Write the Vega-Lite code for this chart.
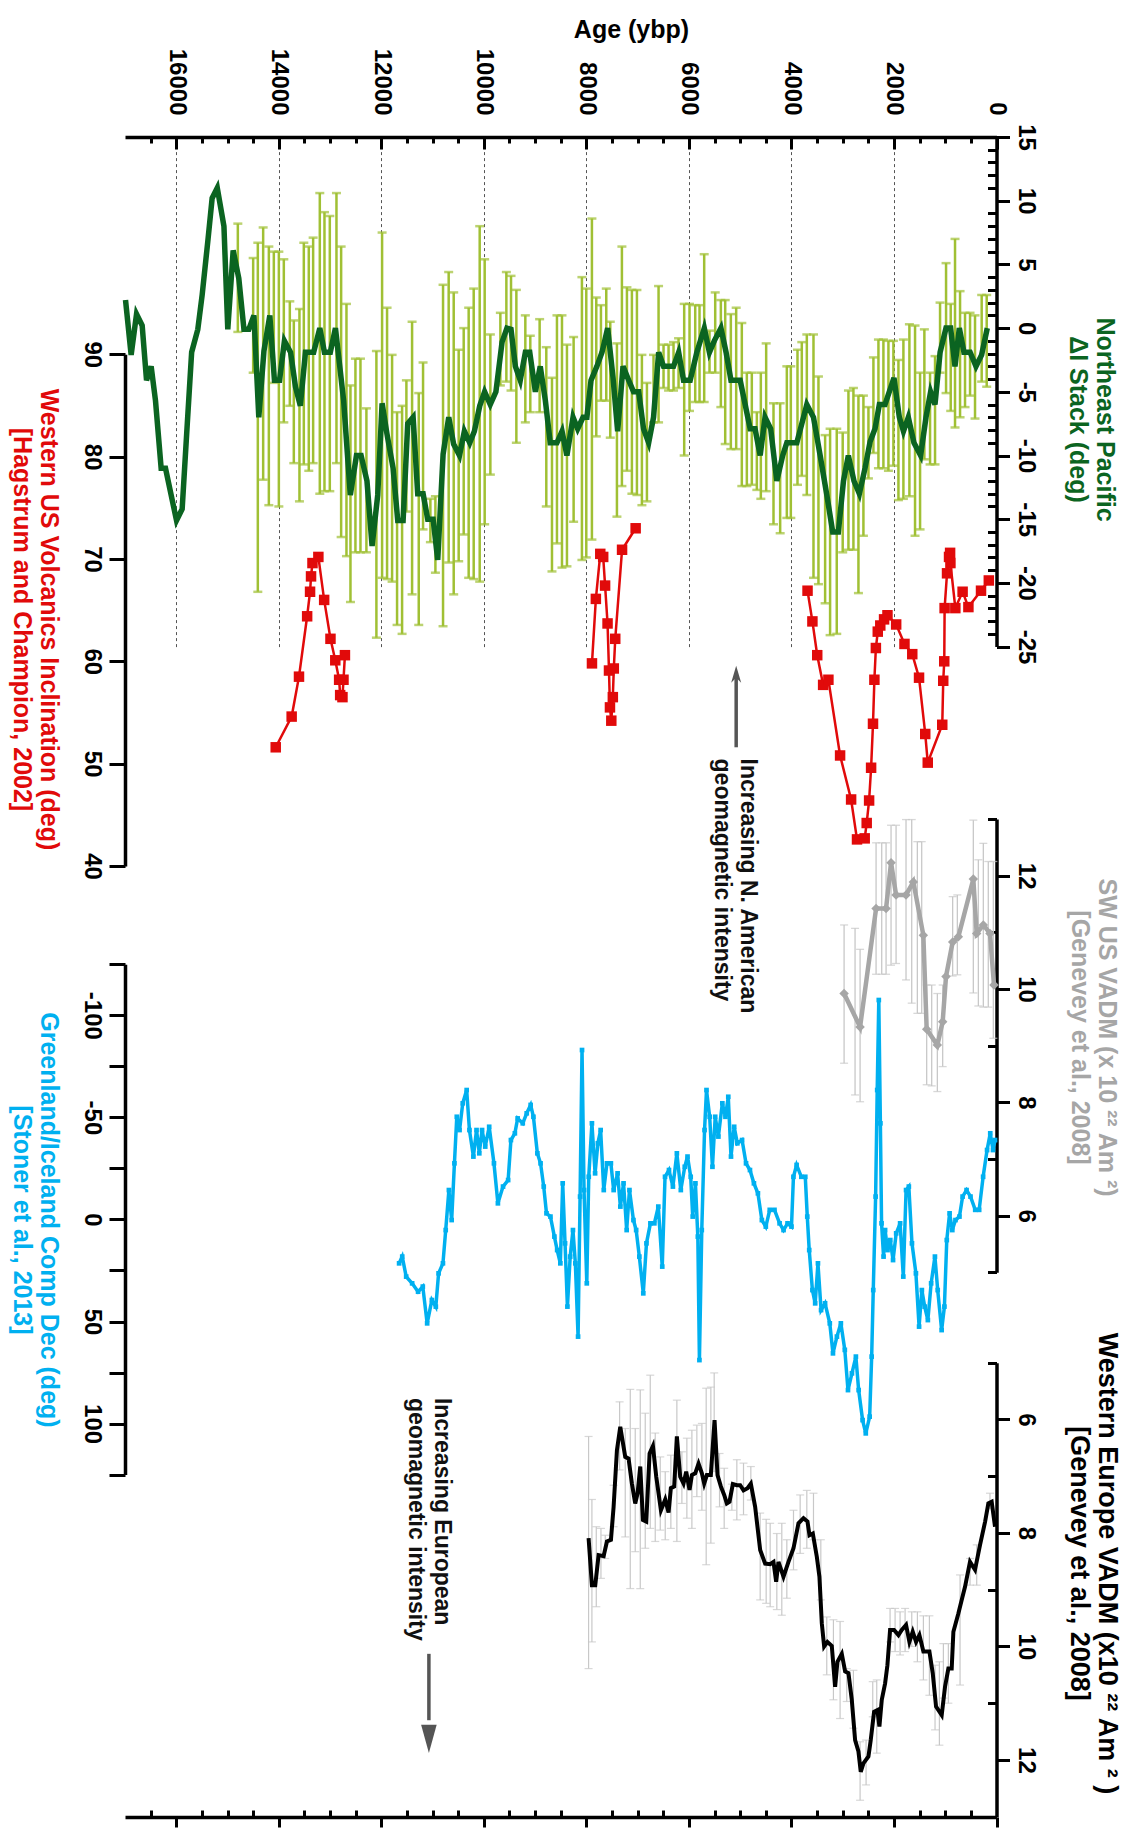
{
"$schema":"https://vega.github.io/schema/vega-lite/v6.json",
"width":871.5,"height":1680,
"autosize":{"type":"none"},
"padding":{"left":125,"top":137,"right":139.5,"bottom":15},
"background":"white",
"config":{"view":{"stroke":null},
 "axis":{"labelFont":"Liberation Sans","labelFontWeight":"bold","labelFontSize":24,"labelColor":"#000","titleFont":"Liberation Sans","titleFontWeight":"bold","titleFontSize":25,"domainColor":"#000","domainWidth":3.5,"tickColor":"#000","tickWidth":3,"grid":false,"labelFlush":false,"labelOverlap":false}},
"datasets":{
"nep":[{"age":16990,"v":2.2},{"age":16880,"v":-2.1},{"age":16775,"v":1.1},{"age":16665,"v":0.2},{"age":16580,"v":-4.1},{"age":16490,"v":-3.0},{"age":16405,"v":-5.7},{"age":16295,"v":-11.0},{"age":16210,"v":-11.0},{"age":15995,"v":-15.1},{"age":15885,"v":-14.2},{"age":15785,"v":-7.5},{"age":15700,"v":-1.9},{"age":15580,"v":-0.1},{"age":15495,"v":2.6},{"age":15385,"v":6.8},{"age":15300,"v":10.2},{"age":15200,"v":11.0},{"age":15070,"v":8.0},{"age":14995,"v":-0.1},{"age":14890,"v":6.1},{"age":14780,"v":3.9},{"age":14680,"v":-0.1},{"age":14585,"v":-0.1},{"age":14485,"v":1.0},{"age":14390,"v":-7.0},{"age":14290,"v":-1.8},{"age":14175,"v":1.0},{"age":14085,"v":-4.1},{"age":13985,"v":-4.1},{"age":13890,"v":-1.0},{"age":13770,"v":-1.9},{"age":13675,"v":-4.6},{"age":13580,"v":-6.1},{"age":13480,"v":-1.9},{"age":13320,"v":-1.9},{"age":13200,"v":0.0},{"age":13110,"v":-1.9},{"age":12995,"v":-1.9},{"age":12895,"v":0.0},{"age":12735,"v":-5.7},{"age":12605,"v":-13.1},{"age":12485,"v":-10.0},{"age":12395,"v":-10.0},{"age":12280,"v":-12.0},{"age":12180,"v":-17.1},{"age":12070,"v":-13.1},{"age":11985,"v":-5.9},{"age":11890,"v":-8.3},{"age":11770,"v":-11.0},{"age":11680,"v":-15.1},{"age":11575,"v":-15.1},{"age":11485,"v":-7.5},{"age":11380,"v":-7.0},{"age":11290,"v":-13.0},{"age":11185,"v":-13.0},{"age":11095,"v":-15.0},{"age":10990,"v":-15.0},{"age":10900,"v":-18.2},{"age":10795,"v":-9.9},{"age":10685,"v":-7.0},{"age":10590,"v":-9.1},{"age":10475,"v":-10.0},{"age":10380,"v":-8.1},{"age":10275,"v":-9.0},{"age":10185,"v":-8.1},{"age":10080,"v":-6.1},{"age":9985,"v":-5.0},{"age":9875,"v":-6.0},{"age":9765,"v":-5.0},{"age":9645,"v":-1.1},{"age":9550,"v":0.0},{"age":9470,"v":-0.1},{"age":9385,"v":-3.0},{"age":9290,"v":-4.1},{"age":9190,"v":-1.9},{"age":9105,"v":-1.9},{"age":8995,"v":-5.0},{"age":8900,"v":-3.0},{"age":8800,"v":-5.7},{"age":8705,"v":-9.0},{"age":8575,"v":-9.0},{"age":8475,"v":-8.1},{"age":8380,"v":-10.0},{"age":8260,"v":-7.0},{"age":8170,"v":-7.9},{"age":8065,"v":-7.0},{"age":7990,"v":-7.0},{"age":7910,"v":-4.1},{"age":7795,"v":-3.0},{"age":7695,"v":-1.9},{"age":7585,"v":0.0},{"age":7480,"v":-3.9},{"age":7390,"v":-8.1},{"age":7285,"v":-3.0},{"age":7175,"v":-4.1},{"age":7080,"v":-5.0},{"age":6980,"v":-5.0},{"age":6885,"v":-7.9},{"age":6785,"v":-9.0},{"age":6690,"v":-7.0},{"age":6590,"v":-1.9},{"age":6495,"v":-3.0},{"age":6395,"v":-3.0},{"age":6300,"v":-3.0},{"age":6200,"v":-1.9},{"age":6105,"v":-4.1},{"age":5975,"v":-4.1},{"age":5845,"v":-1.9},{"age":5700,"v":0.0},{"age":5600,"v":-1.9},{"age":5505,"v":-1.0},{"age":5375,"v":0.0},{"age":5275,"v":-1.9},{"age":5180,"v":-4.1},{"age":5000,"v":-4.1},{"age":4805,"v":-7.9},{"age":4710,"v":-7.9},{"age":4610,"v":-10.0},{"age":4515,"v":-7.0},{"age":4405,"v":-7.9},{"age":4285,"v":-12.0},{"age":4170,"v":-10.0},{"age":4090,"v":-9.0},{"age":3895,"v":-9.0},{"age":3700,"v":-6.0},{"age":3570,"v":-7.0},{"age":3440,"v":-10.0},{"age":3310,"v":-13.1},{"age":3195,"v":-16.0},{"age":3085,"v":-16.0},{"age":2985,"v":-12.0},{"age":2890,"v":-10.0},{"age":2780,"v":-12.0},{"age":2675,"v":-13.0},{"age":2565,"v":-11.0},{"age":2465,"v":-8.9},{"age":2370,"v":-7.9},{"age":2285,"v":-6.0},{"age":2175,"v":-6.0},{"age":2000,"v":-3.9},{"age":1895,"v":-7.0},{"age":1815,"v":-8.1},{"age":1720,"v":-7.0},{"age":1610,"v":-9.0},{"age":1480,"v":-10.0},{"age":1375,"v":-7.0},{"age":1285,"v":-5.0},{"age":1200,"v":-6.0},{"age":1100,"v":-1.9},{"age":985,"v":0.0},{"age":895,"v":0.0},{"age":810,"v":-3.0},{"age":725,"v":0.0},{"age":635,"v":-1.9},{"age":515,"v":-1.9},{"age":400,"v":-3.0},{"age":290,"v":-2.1},{"age":180,"v":0.0}],
"nepErr":[{"age":14799,"hi":8.2,"lo":-0.3},{"age":14500,"hi":5.5,"lo":-3.5},{"age":14409,"hi":6.7,"lo":-20.7},{"age":14305,"hi":7.9,"lo":-11.9},{"age":14194,"hi":6.4,"lo":-13.9},{"age":14097,"hi":6.0,"lo":-4.3},{"age":13999,"hi":6.0,"lo":-14.0},{"age":13902,"hi":5.4,"lo":-7.4},{"age":13785,"hi":2.1,"lo":-6.1},{"age":13707,"hi":0.6,"lo":-10.6},{"age":13597,"hi":1.5,"lo":-13.6},{"age":13512,"hi":6.7,"lo":-10.7},{"age":13415,"hi":6.4,"lo":-11.2},{"age":13330,"hi":7.1,"lo":-10.6},{"age":13200,"hi":10.6,"lo":-13.0},{"age":13109,"hi":9.1,"lo":-12.8},{"age":13005,"hi":8.8,"lo":-12.8},{"age":12875,"hi":10.6,"lo":-10.6},{"age":12784,"hi":6.4,"lo":-16.4},{"age":12680,"hi":1.9,"lo":-17.9},{"age":12602,"hi":-4.5,"lo":-21.5},{"age":12505,"hi":-2.4,"lo":-17.6},{"age":12407,"hi":-2.4,"lo":-17.6},{"age":12291,"hi":-6.3,"lo":-17.6},{"age":12096,"hi":-1.8,"lo":-24.3},{"age":11985,"hi":7.5,"lo":-19.6},{"age":11888,"hi":1.6,"lo":-19.7},{"age":11790,"hi":-2.1,"lo":-19.9},{"age":11693,"hi":-6.6,"lo":-23.3},{"age":11595,"hi":-6.1,"lo":-24.0},{"age":11511,"hi":-4.1,"lo":-14.4},{"age":11400,"hi":0.5,"lo":-20.9},{"age":11270,"hi":-5.1,"lo":-23.3},{"age":11186,"hi":-2.7,"lo":-15.8},{"age":11043,"hi":-13.4,"lo":-16.8},{"age":10945,"hi":-13.2,"lo":-19.2},{"age":10796,"hi":3.4,"lo":-23.4},{"age":10686,"hi":4.4,"lo":-18.4},{"age":10588,"hi":2.8,"lo":-20.9},{"age":10491,"hi":-1.7,"lo":-18.3},{"age":10393,"hi":0.0,"lo":-16.2},{"age":10296,"hi":1.6,"lo":-19.6},{"age":10198,"hi":3.1,"lo":-19.7},{"age":10081,"hi":8.0,"lo":-19.9},{"age":9984,"hi":5.4,"lo":-15.4},{"age":9873,"hi":-0.5,"lo":-11.5},{"age":9678,"hi":1.2,"lo":-4.5},{"age":9561,"hi":4.4,"lo":-4.2},{"age":9470,"hi":4.1,"lo":-4.9},{"age":9366,"hi":3.0,"lo":-9.0},{"age":9191,"hi":1.0,"lo":-7.4},{"age":9094,"hi":-0.6,"lo":-6.6},{"age":8912,"hi":0.7,"lo":-6.6},{"age":8782,"hi":-1.5,"lo":-14.0},{"age":8671,"hi":-3.9,"lo":-19.1},{"age":8574,"hi":1.0,"lo":-16.9},{"age":8476,"hi":1.0,"lo":-18.8},{"age":8379,"hi":-1.3,"lo":-18.7},{"age":8249,"hi":-0.7,"lo":-15.2},{"age":8087,"hi":4.0,"lo":-18.2},{"age":8002,"hi":3.1,"lo":-18.0},{"age":7892,"hi":8.6,"lo":-16.6},{"age":7807,"hi":2.4,"lo":-8.5},{"age":7716,"hi":1.8,"lo":-5.7},{"age":7612,"hi":3.1,"lo":-5.7},{"age":7534,"hi":0.5,"lo":-8.6},{"age":7404,"hi":-1.2,"lo":-14.8},{"age":7307,"hi":6.4,"lo":-12.4},{"age":7209,"hi":3.2,"lo":-11.2},{"age":7112,"hi":3.0,"lo":-13.0},{"age":7014,"hi":3.0,"lo":-13.1},{"age":6917,"hi":-2.1,"lo":-13.9},{"age":6819,"hi":-4.3,"lo":-13.6},{"age":6690,"hi":-2.1,"lo":-7.4},{"age":6592,"hi":3.3,"lo":-7.4},{"age":6495,"hi":-1.3,"lo":-4.7},{"age":6397,"hi":-1.3,"lo":-4.9},{"age":6300,"hi":-1.1,"lo":-4.9},{"age":6202,"hi":-0.8,"lo":-4.7},{"age":6092,"hi":1.9,"lo":-10.0},{"age":5988,"hi":1.9,"lo":-6.5},{"age":5877,"hi":1.8,"lo":-5.8},{"age":5793,"hi":1.8,"lo":-5.8},{"age":5702,"hi":5.8,"lo":-5.8},{"age":5598,"hi":-0.2,"lo":-3.5},{"age":5487,"hi":2.8,"lo":-3.5},{"age":5377,"hi":2.2,"lo":-6.2},{"age":5292,"hi":2.2,"lo":-9.1},{"age":5182,"hi":1.1,"lo":-9.5},{"age":5078,"hi":1.6,"lo":-9.5},{"age":4968,"hi":0.4,"lo":-12.4},{"age":4870,"hi":-3.5,"lo":-12.4},{"age":4773,"hi":-3.5,"lo":-12.3},{"age":4675,"hi":-6.6,"lo":-12.7},{"age":4597,"hi":-3.5,"lo":-13.4},{"age":4493,"hi":-1.2,"lo":-12.8},{"age":4350,"hi":-5.9,"lo":-15.4},{"age":4220,"hi":-5.9,"lo":-16.1},{"age":4090,"hi":-3.0,"lo":-14.9},{"age":4012,"hi":-3.0,"lo":-14.9},{"age":3882,"hi":-1.7,"lo":-12.3},{"age":3798,"hi":-1.1,"lo":-11.6},{"age":3700,"hi":-0.5,"lo":-13.1},{"age":3570,"hi":-0.5,"lo":-19.6},{"age":3473,"hi":-3.8,"lo":-20.1},{"age":3343,"hi":-8.4,"lo":-21.6},{"age":3246,"hi":-7.9,"lo":-24.1},{"age":3116,"hi":-7.9,"lo":-24.0},{"age":3000,"hi":-8.2,"lo":-17.6},{"age":2888,"hi":-4.9,"lo":-17.4},{"age":2791,"hi":-4.7,"lo":-17.4},{"age":2693,"hi":-5.3,"lo":-20.8},{"age":2596,"hi":-5.3,"lo":-16.3},{"age":2498,"hi":-6.2,"lo":-11.8},{"age":2401,"hi":-2.3,"lo":-9.8},{"age":2303,"hi":-0.9,"lo":-11.0},{"age":2206,"hi":-0.9,"lo":-11.0},{"age":2108,"hi":-1.0,"lo":-11.2},{"age":2011,"hi":-1.0,"lo":-10.8},{"age":1913,"hi":-2.5,"lo":-13.5},{"age":1816,"hi":-0.9,"lo":-13.4},{"age":1699,"hi":0.3,"lo":-13.2},{"age":1589,"hi":0.2,"lo":-16.3},{"age":1491,"hi":-3.5,"lo":-15.8},{"age":1407,"hi":-0.1,"lo":-10.3},{"age":1296,"hi":-3.5,"lo":-10.7},{"age":1199,"hi":-2.2,"lo":-10.7},{"age":1101,"hi":2.0,"lo":-3.5},{"age":984,"hi":5.1,"lo":-5.1},{"age":893,"hi":1.9,"lo":-6.5},{"age":809,"hi":7.0,"lo":-7.8},{"age":711,"hi":2.9,"lo":-7.0},{"age":614,"hi":1.2,"lo":-6.2},{"age":516,"hi":1.2,"lo":-5.3},{"age":419,"hi":1.0,"lo":-7.1},{"age":289,"hi":2.6,"lo":-4.2},{"age":191,"hi":2.6,"lo":-4.6}],
"volc":[{"age":14060,"inc":51.6,"seg":"A"},{"age":13749,"inc":54.6,"seg":"A"},{"age":13606,"inc":58.5,"seg":"A"},{"age":13447,"inc":64.4,"seg":"A"},{"age":13390,"inc":66.8,"seg":"A"},{"age":13371,"inc":68.3,"seg":"A"},{"age":13343,"inc":69.6,"seg":"A"},{"age":13228,"inc":70.2,"seg":"A"},{"age":13115,"inc":66.0,"seg":"A"},{"age":12992,"inc":62.2,"seg":"A"},{"age":12898,"inc":60.1,"seg":"A"},{"age":12823,"inc":58.2,"seg":"A"},{"age":12803,"inc":56.7,"seg":"A"},{"age":12758,"inc":56.5,"seg":"A"},{"age":12738,"inc":58.2,"seg":"A"},{"age":12710,"inc":60.6,"seg":"A"},
{"age":7891,"inc":59.8,"seg":"B"},{"age":7815,"inc":66.1,"seg":"B"},{"age":7729,"inc":70.5,"seg":"B"},{"age":7672,"inc":70.2,"seg":"B"},{"age":7635,"inc":67.4,"seg":"B"},{"age":7587,"inc":63.7,"seg":"B"},{"age":7559,"inc":59.1,"seg":"B"},{"age":7540,"inc":55.5,"seg":"B"},{"age":7514,"inc":54.2,"seg":"B"},{"age":7484,"inc":56.5,"seg":"B"},{"age":7465,"inc":59.3,"seg":"B"},{"age":7437,"inc":62.2,"seg":"B"},{"age":7304,"inc":70.9,"seg":"B"},{"age":7039,"inc":73.0,"seg":"B"},
{"age":3686,"inc":66.9,"seg":"C"},{"age":3591,"inc":63.9,"seg":"C"},{"age":3497,"inc":60.6,"seg":"C"},{"age":3382,"inc":57.7,"seg":"C"},{"age":3279,"inc":58.2,"seg":"C"},{"age":3051,"inc":50.8,"seg":"C"},{"age":2836,"inc":46.5,"seg":"C"},{"age":2721,"inc":42.6,"seg":"C"},{"age":2571,"inc":42.7,"seg":"C"},{"age":2532,"inc":44.2,"seg":"C"},{"age":2485,"inc":46.4,"seg":"C"},{"age":2446,"inc":49.6,"seg":"C"},{"age":2409,"inc":53.9,"seg":"C"},{"age":2382,"inc":58.2,"seg":"C"},{"age":2353,"inc":61.3,"seg":"C"},{"age":2316,"inc":62.9,"seg":"C"},{"age":2267,"inc":63.5,"seg":"C"},{"age":2193,"inc":64.1,"seg":"C"},{"age":2127,"inc":64.5,"seg":"C"},{"age":1957,"inc":63.6,"seg":"C"},{"age":1795,"inc":61.7,"seg":"C"},{"age":1643,"inc":60.7,"seg":"C"},{"age":1511,"inc":58.4,"seg":"C"},{"age":1390,"inc":52.9,"seg":"C"},{"age":1341,"inc":50.1,"seg":"C"},{"age":1058,"inc":53.8,"seg":"C"},{"age":1039,"inc":58.1,"seg":"C"},{"age":1019,"inc":60.0,"seg":"C"},{"age":1012,"inc":65.2,"seg":"C"},{"age":965,"inc":68.6,"seg":"C"},{"age":926,"inc":70.2,"seg":"C"},{"age":905,"inc":70.6,"seg":"C"},{"age":899,"inc":69.6,"seg":"C"},{"age":803,"inc":65.2,"seg":"C"},{"age":661,"inc":66.8,"seg":"C"},{"age":548,"inc":65.3,"seg":"C"},{"age":302,"inc":66.9,"seg":"C"},{"age":150,"inc":67.9,"seg":"C"}],
"sw":[{"age":2973,"vadm":9.92},{"age":2661,"vadm":9.33},{"age":2349,"vadm":11.42},{"age":2154,"vadm":11.42},{"age":2057,"vadm":12.23},{"age":1959,"vadm":11.66},{"age":1765,"vadm":11.66},{"age":1622,"vadm":11.89},{"age":1427,"vadm":10.95},{"age":1362,"vadm":9.29},{"age":1154,"vadm":9.01},{"age":1050,"vadm":9.42},{"age":985,"vadm":10.22},{"age":855,"vadm":10.83},{"age":744,"vadm":10.92},{"age":452,"vadm":11.94},{"age":387,"vadm":10.98},{"age":257,"vadm":11.13},{"age":127,"vadm":10.98},{"age":49,"vadm":10.07}],
"swErr":[{"age":2973,"hi":11.13,"lo":8.69},{"age":2759,"hi":11.07,"lo":8.13},{"age":2661,"hi":10.7,"lo":8.01},{"age":2349,"hi":12.58,"lo":10.26},{"age":2239,"hi":12.58,"lo":10.26},{"age":2154,"hi":12.58,"lo":10.26},{"age":2057,"hi":12.89,"lo":10.42},{"age":1959,"hi":12.89,"lo":10.45},{"age":1765,"hi":12.99,"lo":10.16},{"age":1654,"hi":12.99,"lo":9.75},{"age":1544,"hi":12.6,"lo":9.57},{"age":1459,"hi":12.6,"lo":9.57},{"age":1362,"hi":10.07,"lo":8.31},{"age":1264,"hi":10.07,"lo":8.29},{"age":1154,"hi":9.92,"lo":8.19},{"age":1050,"hi":10.07,"lo":8.63},{"age":855,"hi":11.63,"lo":10.23},{"age":764,"hi":11.66,"lo":10.25},{"age":452,"hi":12.98,"lo":9.93},{"age":354,"hi":12.28,"lo":9.7},{"age":257,"hi":12.57,"lo":9.68},{"age":160,"hi":12.25,"lo":9.68},{"age":62,"hi":12.25,"lo":9.13}],
"grl":[{"age":11653,"dec":21.5},{"age":11592,"dec":18.2},{"age":11515,"dec":28.0},{"age":11399,"dec":31.3},{"age":11283,"dec":35.4},{"age":11191,"dec":32.9},{"age":11106,"dec":50.9},{"age":11014,"dec":39.5},{"age":10937,"dec":42.7},{"age":10883,"dec":26.4},{"age":10798,"dec":21.5},{"age":10744,"dec":5.2},{"age":10682,"dec":-14.4},{"age":10628,"dec":0.3},{"age":10574,"dec":-27.5},{"age":10528,"dec":-50.3},{"age":10474,"dec":-43.8},{"age":10412,"dec":-56.9},{"age":10335,"dec":-63.4},{"age":10281,"dec":-43.8},{"age":10204,"dec":-30.8},{"age":10143,"dec":-43.8},{"age":10089,"dec":-32.4},{"age":10035,"dec":-43.8},{"age":9973,"dec":-35.7},{"age":9896,"dec":-45.4},{"age":9803,"dec":-27.5},{"age":9726,"dec":-7.9},{"age":9626,"dec":-16.1},{"age":9526,"dec":-19.3},{"age":9472,"dec":-38.9},{"age":9395,"dec":-42.2},{"age":9341,"dec":-49.5},{"age":9241,"dec":-47.1},{"age":9164,"dec":-52.0},{"age":9087,"dec":-56.1},{"age":9033,"dec":-50.3},{"age":8956,"dec":-32.4},{"age":8894,"dec":-27.5},{"age":8832,"dec":-16.1},{"age":8778,"dec":-3.0},{"age":8701,"dec":-1.4},{"age":8624,"dec":8.4},{"age":8570,"dec":15.0},{"age":8508,"dec":21.5},{"age":8462,"dec":-17.7},{"age":8416,"dec":11.7},{"age":8370,"dec":42.7},{"age":8316,"dec":18.2},{"age":8262,"dec":5.2},{"age":8215,"dec":21.5},{"age":8162,"dec":57.4},{"age":8123,"dec":-11.2},{"age":8085,"dec":-83.0},{"age":8046,"dec":-14.4},{"age":7992,"dec":31.3},{"age":7954,"dec":-20.9},{"age":7892,"dec":-47.1},{"age":7830,"dec":-22.6},{"age":7776,"dec":-37.3},{"age":7722,"dec":-43.8},{"age":7661,"dec":-14.4},{"age":7599,"dec":-27.5},{"age":7522,"dec":-27.5},{"age":7468,"dec":-14.4},{"age":7391,"dec":-22.6},{"age":7337,"dec":-6.3},{"age":7275,"dec":-17.7},{"age":7214,"dec":5.2},{"age":7160,"dec":-14.4},{"age":7082,"dec":0.3},{"age":7029,"dec":5.2},{"age":6967,"dec":18.2},{"age":6890,"dec":36.2},{"age":6828,"dec":11.7},{"age":6751,"dec":1.9},{"age":6674,"dec":1.9},{"age":6597,"dec":-6.3},{"age":6520,"dec":23.1},{"age":6466,"dec":-20.9},{"age":6389,"dec":-24.2},{"age":6312,"dec":-16.1},{"age":6235,"dec":-32.4},{"age":6158,"dec":-14.4},{"age":6081,"dec":-25.8},{"age":6027,"dec":-30.8},{"age":5965,"dec":-20.9},{"age":5926,"dec":-1.4},{"age":5873,"dec":-17.7},{"age":5826,"dec":8.4},{"age":5795,"dec":68.9},{"age":5749,"dec":5.2},{"age":5695,"dec":-43.8},{"age":5657,"dec":-63.4},{"age":5595,"dec":-50.3},{"age":5541,"dec":-25.8},{"age":5487,"dec":-50.3},{"age":5425,"dec":-40.6},{"age":5348,"dec":-56.9},{"age":5287,"dec":-50.3},{"age":5232,"dec":-60.1},{"age":5179,"dec":-30.8},{"age":5117,"dec":-45.4},{"age":5055,"dec":-37.3},{"age":4963,"dec":-38.9},{"age":4886,"dec":-27.5},{"age":4809,"dec":-24.2},{"age":4732,"dec":-17.7},{"age":4654,"dec":-12.8},{"age":4577,"dec":0.3},{"age":4500,"dec":3.5},{"age":4423,"dec":-4.7},{"age":4331,"dec":-4.7},{"age":4231,"dec":1.9},{"age":4154,"dec":5.2},{"age":4076,"dec":1.9},{"age":3999,"dec":3.5},{"age":3961,"dec":-20.9},{"age":3899,"dec":-26.7},{"age":3807,"dec":-20.9},{"age":3730,"dec":-20.9},{"age":3691,"dec":-1.4},{"age":3653,"dec":15.0},{"age":3591,"dec":34.6},{"age":3537,"dec":41.1},{"age":3483,"dec":21.5},{"age":3422,"dec":44.4},{"age":3344,"dec":41.1},{"age":3252,"dec":50.9},{"age":3190,"dec":65.6},{"age":3113,"dec":57.4},{"age":3036,"dec":50.9},{"age":2959,"dec":63.9},{"age":2897,"dec":83.6},{"age":2820,"dec":75.4},{"age":2743,"dec":67.2},{"age":2689,"dec":83.6},{"age":2612,"dec":98.3},{"age":2550,"dec":104.8},{"age":2474,"dec":96.6},{"age":2435,"dec":67.2},{"age":2404,"dec":34.6},{"age":2358,"dec":-11.2},{"age":2327,"dec":-63.4},{"age":2296,"dec":-107.5},{"age":2265,"dec":-47.1},{"age":2242,"dec":1.9},{"age":2203,"dec":18.2},{"age":2173,"dec":5.2},{"age":2126,"dec":15.0},{"age":2072,"dec":10.1},{"age":2018,"dec":19.9},{"age":1957,"dec":6.8},{"age":1880,"dec":1.9},{"age":1818,"dec":28.0},{"age":1764,"dec":-14.4},{"age":1710,"dec":-16.1},{"age":1649,"dec":11.7},{"age":1572,"dec":26.4},{"age":1510,"dec":52.5},{"age":1456,"dec":34.6},{"age":1401,"dec":42.7},{"age":1339,"dec":49.3},{"age":1275,"dec":31.3},{"age":1201,"dec":18.2},{"age":1147,"dec":34.6},{"age":1070,"dec":54.2},{"age":1016,"dec":42.7},{"age":970,"dec":10.1},{"age":915,"dec":-3.0},{"age":862,"dec":5.2},{"age":800,"dec":0.3},{"age":723,"dec":-1.4},{"age":661,"dec":-11.2},{"age":584,"dec":-14.4},{"age":507,"dec":-11.2},{"age":415,"dec":-4.7},{"age":338,"dec":-4.7},{"age":261,"dec":-20.9},{"age":184,"dec":-34.0},{"age":122,"dec":-42.2},{"age":68,"dec":-34.0},{"age":29,"dec":-38.9}],
"eur":[{"age":7957,"vadm":8.09},{"age":7892,"vadm":8.92},{"age":7827,"vadm":8.92},{"age":7762,"vadm":8.39},{"age":7664,"vadm":8.41},{"age":7599,"vadm":8.15},{"age":7521,"vadm":8.12},{"age":7469,"vadm":7.54},{"age":7404,"vadm":6.54},{"age":7339,"vadm":6.13},{"age":7242,"vadm":6.66},{"age":7177,"vadm":6.69},{"age":7112,"vadm":7.13},{"age":7047,"vadm":7.48},{"age":7001,"vadm":7.3},{"age":6949,"vadm":6.83},{"age":6897,"vadm":7.77},{"age":6832,"vadm":7.8},{"age":6767,"vadm":6.6},{"age":6702,"vadm":6.47},{"age":6637,"vadm":7.01},{"age":6546,"vadm":7.6},{"age":6462,"vadm":7.41},{"age":6397,"vadm":7.64},{"age":6352,"vadm":7.21},{"age":6287,"vadm":7.18},{"age":6235,"vadm":6.3},{"age":6170,"vadm":7.01},{"age":6105,"vadm":7.13},{"age":6053,"vadm":6.92},{"age":5988,"vadm":7.24},{"age":5942,"vadm":6.98},{"age":5877,"vadm":6.95},{"age":5812,"vadm":6.78},{"age":5747,"vadm":6.95},{"age":5702,"vadm":7.13},{"age":5650,"vadm":6.98},{"age":5572,"vadm":6.98},{"age":5500,"vadm":6.01},{"age":5442,"vadm":6.98},{"age":5377,"vadm":7.18},{"age":5312,"vadm":7.33},{"age":5260,"vadm":7.48},{"age":5208,"vadm":7.45},{"age":5143,"vadm":7.14},{"age":5065,"vadm":7.16},{"age":5000,"vadm":7.16},{"age":4935,"vadm":7.25},{"age":4857,"vadm":7.21},{"age":4792,"vadm":7.13},{"age":4708,"vadm":7.54},{"age":4610,"vadm":8.3},{"age":4513,"vadm":8.54},{"age":4415,"vadm":8.55},{"age":4350,"vadm":8.51},{"age":4298,"vadm":8.86},{"age":4253,"vadm":8.51},{"age":4155,"vadm":8.77},{"age":4058,"vadm":8.51},{"age":3960,"vadm":8.27},{"age":3863,"vadm":7.83},{"age":3765,"vadm":7.74},{"age":3687,"vadm":7.8},{"age":3648,"vadm":8.04},{"age":3583,"vadm":8.01},{"age":3505,"vadm":8.42},{"age":3454,"vadm":8.77},{"age":3408,"vadm":9.59},{"age":3362,"vadm":10.0},{"age":3298,"vadm":9.92},{"age":3213,"vadm":9.99},{"age":3148,"vadm":10.71},{"age":3103,"vadm":10.27},{"age":3018,"vadm":10.13},{"age":2953,"vadm":10.44},{"age":2888,"vadm":10.47},{"age":2823,"vadm":10.94},{"age":2758,"vadm":11.65},{"age":2693,"vadm":11.85},{"age":2648,"vadm":12.21},{"age":2596,"vadm":12.06},{"age":2498,"vadm":11.94},{"age":2453,"vadm":11.65},{"age":2388,"vadm":11.15},{"age":2323,"vadm":11.12},{"age":2284,"vadm":11.41},{"age":2238,"vadm":10.94},{"age":2173,"vadm":10.65},{"age":2128,"vadm":10.33},{"age":2076,"vadm":9.71},{"age":1998,"vadm":9.71},{"age":1913,"vadm":9.8},{"age":1848,"vadm":9.71},{"age":1764,"vadm":9.62},{"age":1699,"vadm":9.92},{"age":1634,"vadm":9.74},{"age":1569,"vadm":9.92},{"age":1504,"vadm":9.8},{"age":1426,"vadm":10.09},{"age":1309,"vadm":10.09},{"age":1244,"vadm":10.47},{"age":1179,"vadm":11.06},{"age":1069,"vadm":11.21},{"age":1004,"vadm":10.71},{"age":939,"vadm":10.39},{"age":874,"vadm":10.39},{"age":841,"vadm":9.74},{"age":744,"vadm":9.42},{"age":679,"vadm":9.18},{"age":614,"vadm":8.95},{"age":517,"vadm":8.51},{"age":419,"vadm":8.65},{"age":321,"vadm":8.21},{"age":222,"vadm":7.8},{"age":159,"vadm":7.48},{"age":94,"vadm":7.45},{"age":29,"vadm":7.89}],
"eurErr":[{"age":7957,"lo":6.3,"hi":10.39},{"age":7892,"lo":7.41,"hi":9.92},{"age":7807,"lo":7.89,"hi":9.3},{"age":7716,"lo":7.92,"hi":8.8},{"age":7632,"lo":8.04,"hi":8.45},{"age":7469,"lo":7.16,"hi":7.89},{"age":7352,"lo":5.69,"hi":6.89},{"age":7242,"lo":6.16,"hi":8.07},{"age":7144,"lo":5.47,"hi":8.98},{"age":7047,"lo":6.16,"hi":8.33},{"age":6949,"lo":5.48,"hi":8.98},{"age":6852,"lo":5.89,"hi":8.27},{"age":6754,"lo":5.22,"hi":7.92},{"age":6657,"lo":6.24,"hi":8.15},{"age":6559,"lo":6.66,"hi":7.95},{"age":6462,"lo":6.92,"hi":8.12},{"age":6352,"lo":6.63,"hi":7.92},{"age":6235,"lo":5.66,"hi":8.15},{"age":6137,"lo":6.57,"hi":7.48},{"age":6040,"lo":6.33,"hi":7.74},{"age":5942,"lo":6.19,"hi":7.92},{"age":5845,"lo":6.1,"hi":7.36},{"age":5747,"lo":6.07,"hi":7.6},{"age":5663,"lo":5.45,"hi":8.56},{"age":5572,"lo":5.43,"hi":8.18},{"age":5507,"lo":5.18,"hi":6.92},{"age":5403,"lo":6.6,"hi":7.54},{"age":5312,"lo":6.86,"hi":7.92},{"age":5162,"lo":7.14,"hi":7.6},{"age":5065,"lo":6.71,"hi":7.77},{"age":4935,"lo":6.77,"hi":7.68},{"age":4792,"lo":6.83,"hi":7.42},{"age":4610,"lo":7.65,"hi":9.18},{"age":4493,"lo":7.76,"hi":9.24},{"age":4415,"lo":7.83,"hi":9.3},{"age":4285,"lo":8.01,"hi":9.35},{"age":4188,"lo":7.83,"hi":9.45},{"age":4090,"lo":8.12,"hi":9.15},{"age":3960,"lo":7.6,"hi":8.65},{"age":3830,"lo":7.33,"hi":8.36},{"age":3700,"lo":7.25,"hi":8.27},{"age":3570,"lo":7.3,"hi":8.12},{"age":3427,"lo":8.12,"hi":9.18},{"age":3311,"lo":9.48,"hi":10.5},{"age":3181,"lo":9.53,"hi":10.94},{"age":3051,"lo":9.56,"hi":11.27},{"age":2921,"lo":10.39,"hi":10.97},{"age":2791,"lo":10.42,"hi":11.44},{"age":2661,"lo":11.68,"hi":12.71},{"age":2544,"lo":11.65,"hi":12.44},{"age":2414,"lo":10.62,"hi":11.24},{"age":2336,"lo":10.59,"hi":11.88},{"age":2076,"lo":9.33,"hi":9.92},{"age":1978,"lo":9.33,"hi":10.09},{"age":1881,"lo":9.39,"hi":10.15},{"age":1783,"lo":9.33,"hi":10.09},{"age":1653,"lo":9.39,"hi":10.0},{"age":1543,"lo":9.39,"hi":10.27},{"age":1426,"lo":9.46,"hi":10.59},{"age":1309,"lo":9.46,"hi":10.86},{"age":1199,"lo":10.33,"hi":11.47},{"age":1114,"lo":10.27,"hi":11.74},{"age":1036,"lo":9.95,"hi":10.91},{"age":939,"lo":9.95,"hi":11.0},{"age":711,"lo":8.74,"hi":10.68},{"age":516,"lo":8.45,"hi":8.92},{"age":386,"lo":8.21,"hi":8.92},{"age":127,"lo":7.3,"hi":7.57}],
"noteNA":[{"age":5078,"tage":4844,"pos":50.5,"label":"Increasing N. American\ngeomagnetic intensity","top":58.6,"bot":51.6}],
"noteEU":[{"age":11072,"tage":10809,"pos":5.62,"label":"Increasing European\ngeomagnetic intensity","top":10.13,"bot":11.3,"head":11.63}]
},
"resolve":{"scale":{"y":"independent"},"axis":{"x":"independent","y":"independent"}},
"layer":[
{"data":{"name":"nepErr"},"mark":{"type":"rule","color":"#a0c034","strokeWidth":2.5},
 "encoding":{
  "x":{"field":"age","type":"quantitative","scale":{"domain":[0,17000],"reverse":true,"nice":false,"zero":false},"axis":{"orient":"top","values":[0,2000,4000,6000,8000,10000,12000,14000,16000],"tickSize":-12,"labels":false,"domain":false,"title":null,"grid":false}},
  "y":{"field":"lo","type":"quantitative","scale":{"domain":[-25,15],"range":[509.6,0],"nice":false,"zero":false},"axis":{"orient":"right","values":[-24,-23,-22,-21,-19,-18,-17,-16,-14,-13,-12,-11,-9,-8,-7,-6,-4,-3,-2,-1,1,2,3,4,6,7,8,9,11,12,13,14],"tickSize":-9,"labels":false,"domain":false,"title":null}},
  "y2":{"field":"hi"}}},
{"data":{"name":"nepErr"},"mark":{"type":"tick","orient":"horizontal","color":"#a0c034","size":9,"thickness":2.5},
 "encoding":{
  "x":{"field":"age","type":"quantitative","scale":{"domain":[0,17000],"reverse":true,"nice":false,"zero":false},"axis":{"orient":"top","values":[500,1000,1500,2500,3000,3500,4500,5000,5500,6500,7000,7500,8500,9000,9500,10500,11000,11500,12500,13000,13500,14500,15000,15500,16500],"tickSize":-6,"labels":false,"domain":false,"title":null,"grid":false}},
  "y":{"field":"lo","type":"quantitative","scale":{"domain":[-25,15],"range":[509.6,0],"nice":false,"zero":false},"axis":null}}},
{"data":{"name":"nepErr"},"mark":{"type":"tick","orient":"horizontal","color":"#a0c034","size":9,"thickness":2.5},
 "encoding":{
  "x":{"field":"age","type":"quantitative","scale":{"domain":[0,17000],"reverse":true,"nice":false,"zero":false},"axis":null},
  "y":{"field":"hi","type":"quantitative","scale":{"domain":[-25,15],"range":[509.6,0],"nice":false,"zero":false},"axis":null}}},
{"data":{"name":"nep"},"mark":{"type":"line","color":"#0b6421","strokeWidth":5.5,"strokeJoin":"miter"},
 "encoding":{
  "x":{"field":"age","type":"quantitative","scale":{"domain":[0,17000],"reverse":true,"nice":false,"zero":false},"axis":{"orient":"top","values":[0,2000,4000,6000,8000,10000,12000,14000,16000],"format":"d","ticks":false,"domain":true,"labelAngle":90,"labelAlign":"right","labelBaseline":"middle","labelPadding":22,"title":"Age (ybp)","titlePadding":6,"titleX":506,"grid":true,"gridDash":[3,3],"gridColor":"#555","gridWidth":1}},
  "y":{"field":"v","type":"quantitative","scale":{"domain":[-25,15],"range":[509.6,0],"nice":false,"zero":false},"axis":{"orient":"right","values":[-25,-20,-15,-10,-5,0,5,10,15],"tickSize":13,"labelAngle":90,"labelAlign":"center","labelBaseline":"bottom","labelPadding":4,"labelExpr":"replace(datum.label,'−','-')","title":["Northeast Pacific","ΔI Stack (deg)"],"titleColor":"#0b6421","titleAngle":90,"titleBaseline":"bottom","titlePadding":27,"titleY":282}}}},
{"data":{"name":"volc"},"mark":{"type":"line","color":"#e10a0a","strokeWidth":2.5,"point":{"shape":"square","size":110,"filled":true,"color":"#e10a0a"}},
 "encoding":{
  "x":{"field":"age","type":"quantitative","scale":{"domain":[0,17000],"reverse":true,"nice":false,"zero":false},"axis":{"orient":"bottom","values":[0,2000,4000,6000,8000,10000,12000,14000,16000],"tickSize":10,"labels":false,"domain":true,"title":null,"grid":false}},
  "y":{"field":"inc","type":"quantitative","scale":{"domain":[40,90],"range":[729,217.3],"nice":false,"zero":false},"axis":{"orient":"left","values":[40,50,60,70,80,90],"tickSize":16,"labelAngle":90,"labelAlign":"center","labelBaseline":"top","labelPadding":6,"title":["Western US Volcanics Inclination (deg)","[Hagstrum and Champion, 2002]"],"titleColor":"#e10a0a","titleAngle":90,"titleBaseline":"top","titlePadding":-8,"titleY":482}},
  "detail":{"field":"seg","type":"nominal"}}},
{"data":{"name":"swErr"},"mark":{"type":"rule","color":"#c8c8c8","strokeWidth":1.3},
 "encoding":{
  "x":{"field":"age","type":"quantitative","scale":{"domain":[0,17000],"reverse":true,"nice":false,"zero":false},"axis":{"orient":"bottom","values":[500,1000,1500,2500,3000,3500,4500,5000,5500,6500,7000,7500,8500,9000,9500,10500,11000,11500,12500,13000,13500,14500,15000,15500,16500],"tickSize":-7,"labels":false,"domain":false,"title":null,"grid":false}},
  "y":{"field":"lo","type":"quantitative","scale":{"domain":[5,13],"range":[1135.3,682],"nice":false,"zero":false},"axis":{"orient":"right","values":[5,7,9,11,13],"tickSize":-9,"labels":false,"domain":false,"title":null}},
  "y2":{"field":"hi"}}},
{"data":{"name":"swErr"},"mark":{"type":"tick","orient":"horizontal","color":"#c8c8c8","size":8,"thickness":1.3},
 "encoding":{
  "x":{"field":"age","type":"quantitative","scale":{"domain":[0,17000],"reverse":true,"nice":false,"zero":false},"axis":null},
  "y":{"field":"lo","type":"quantitative","scale":{"domain":[5,13],"range":[1135.3,682],"nice":false,"zero":false},"axis":null}}},
{"data":{"name":"swErr"},"mark":{"type":"tick","orient":"horizontal","color":"#c8c8c8","size":8,"thickness":1.3},
 "encoding":{
  "x":{"field":"age","type":"quantitative","scale":{"domain":[0,17000],"reverse":true,"nice":false,"zero":false},"axis":null},
  "y":{"field":"hi","type":"quantitative","scale":{"domain":[5,13],"range":[1135.3,682],"nice":false,"zero":false},"axis":null}}},
{"data":{"name":"sw"},"mark":{"type":"line","color":"#a6a6a6","strokeWidth":4.5,"point":{"shape":"diamond","size":90,"filled":true,"color":"#a6a6a6"}},
 "encoding":{
  "x":{"field":"age","type":"quantitative","scale":{"domain":[0,17000],"reverse":true,"nice":false,"zero":false},"axis":null},
  "y":{"field":"vadm","type":"quantitative","scale":{"domain":[5,13],"range":[1135.3,682],"nice":false,"zero":false},"axis":{"orient":"right","values":[6,8,10,12],"tickSize":13,"labelAngle":90,"labelAlign":"center","labelBaseline":"bottom","labelPadding":4,"title":["SW US VADM  (x 10 ²² Am ²)","[Genevey et al., 2008]"],"titleColor":"#a6a6a6","titleAngle":90,"titleBaseline":"bottom","titlePadding":29,"titleY":900}}}},
{"data":{"name":"grl"},"mark":{"type":"line","color":"#00b0f0","strokeWidth":3.5,"point":{"shape":"square","size":22,"filled":true,"color":"#00b0f0"}},
 "encoding":{
  "x":{"field":"age","type":"quantitative","scale":{"domain":[0,17000],"reverse":true,"nice":false,"zero":false},"axis":null},
  "y":{"field":"dec","type":"quantitative","scale":{"domain":[-125,125],"range":[827.3,1337.6],"nice":false,"zero":false},"axis":{"orient":"left","values":[-125,-100,-75,-50,-25,0,25,50,75,100,125],"tickSize":16,"labelAngle":90,"labelAlign":"center","labelBaseline":"top","labelPadding":6,"labelExpr":"datum.value % 50 === 0 ? replace(datum.label,'−','-') : ''","title":["Greenland/Iceland Comp Dec (deg)","[Stoner et al., 2013]"],"titleColor":"#00b0f0","titleAngle":90,"titleBaseline":"top","titlePadding":-8}}}},
{"data":{"name":"eurErr"},"mark":{"type":"rule","color":"#c8c8c8","strokeWidth":1.2},
 "encoding":{
  "x":{"field":"age","type":"quantitative","scale":{"domain":[0,17000],"reverse":true,"nice":false,"zero":false},"axis":null},
  "y":{"field":"lo","type":"quantitative","scale":{"domain":[5,13],"range":[1225.7,1679.7],"nice":false,"zero":false},"axis":{"orient":"right","values":[5,7,9,11,13],"tickSize":-9,"labels":false,"domain":false,"title":null}},
  "y2":{"field":"hi"}}},
{"data":{"name":"eurErr"},"mark":{"type":"tick","orient":"horizontal","color":"#c8c8c8","size":8,"thickness":1.2},
 "encoding":{
  "x":{"field":"age","type":"quantitative","scale":{"domain":[0,17000],"reverse":true,"nice":false,"zero":false},"axis":null},
  "y":{"field":"lo","type":"quantitative","scale":{"domain":[5,13],"range":[1225.7,1679.7],"nice":false,"zero":false},"axis":null}}},
{"data":{"name":"eurErr"},"mark":{"type":"tick","orient":"horizontal","color":"#c8c8c8","size":8,"thickness":1.2},
 "encoding":{
  "x":{"field":"age","type":"quantitative","scale":{"domain":[0,17000],"reverse":true,"nice":false,"zero":false},"axis":null},
  "y":{"field":"hi","type":"quantitative","scale":{"domain":[5,13],"range":[1225.7,1679.7],"nice":false,"zero":false},"axis":null}}},
{"data":{"name":"eur"},"mark":{"type":"line","color":"#000","strokeWidth":4},
 "encoding":{
  "x":{"field":"age","type":"quantitative","scale":{"domain":[0,17000],"reverse":true,"nice":false,"zero":false},"axis":null},
  "y":{"field":"vadm","type":"quantitative","scale":{"domain":[5,13],"range":[1225.7,1679.7],"nice":false,"zero":false},"axis":{"orient":"right","values":[6,8,10,12],"tickSize":13,"labelAngle":90,"labelAlign":"center","labelBaseline":"bottom","labelPadding":4,"title":["Western Europe VADM (x10 ²² Am ² )","[Genevey et al., 2008]"],"titleColor":"#000","titleFontSize":27,"titleLineHeight":28,"titleAngle":90,"titleBaseline":"bottom","titlePadding":27,"titleY":1426}}}},
{"data":{"name":"noteNA"},"mark":{"type":"text","angle":90,"align":"left","baseline":"middle","lineBreak":"\n","lineHeight":26,"font":"Liberation Sans","fontWeight":"bold","fontSize":23,"color":"#111"},
 "encoding":{
  "x":{"field":"tage","type":"quantitative","scale":{"domain":[0,17000],"reverse":true,"nice":false,"zero":false},"axis":null},
  "y":{"field":"pos","type":"quantitative","scale":{"domain":[40,90],"range":[729,217.3],"nice":false,"zero":false},"axis":null},
  "text":{"field":"label"}}},
{"data":{"name":"noteNA"},"mark":{"type":"rule","color":"#555","strokeWidth":3.5},
 "encoding":{
  "x":{"field":"age","type":"quantitative","scale":{"domain":[0,17000],"reverse":true,"nice":false,"zero":false},"axis":null},
  "y":{"field":"top","type":"quantitative","scale":{"domain":[40,90],"range":[729,217.3],"nice":false,"zero":false},"axis":null},
  "y2":{"field":"bot"}}},
{"data":{"name":"noteNA"},"mark":{"type":"point","shape":"M0,-1L0.5,0.7L0,0.2L-0.5,0.7Z","size":400,"filled":true,"color":"#555","opacity":1},
 "encoding":{
  "x":{"field":"age","type":"quantitative","scale":{"domain":[0,17000],"reverse":true,"nice":false,"zero":false},"axis":null},
  "y":{"field":"top","type":"quantitative","scale":{"domain":[40,90],"range":[729,217.3],"nice":false,"zero":false},"axis":null}}},
{"data":{"name":"noteEU"},"mark":{"type":"text","angle":90,"align":"left","baseline":"middle","lineBreak":"\n","lineHeight":26,"font":"Liberation Sans","fontWeight":"bold","fontSize":23,"color":"#111"},
 "encoding":{
  "x":{"field":"tage","type":"quantitative","scale":{"domain":[0,17000],"reverse":true,"nice":false,"zero":false},"axis":null},
  "y":{"field":"pos","type":"quantitative","scale":{"domain":[5,13],"range":[1225.7,1679.7],"nice":false,"zero":false},"axis":null},
  "text":{"field":"label"}}},
{"data":{"name":"noteEU"},"mark":{"type":"rule","color":"#555","strokeWidth":3.5},
 "encoding":{
  "x":{"field":"age","type":"quantitative","scale":{"domain":[0,17000],"reverse":true,"nice":false,"zero":false},"axis":null},
  "y":{"field":"top","type":"quantitative","scale":{"domain":[5,13],"range":[1225.7,1679.7],"nice":false,"zero":false},"axis":null},
  "y2":{"field":"bot"}}},
{"data":{"name":"noteEU"},"mark":{"type":"point","shape":"M-0.55,-1L0.55,-1L0,1Z","size":800,"filled":true,"color":"#555","opacity":1},
 "encoding":{
  "x":{"field":"age","type":"quantitative","scale":{"domain":[0,17000],"reverse":true,"nice":false,"zero":false},"axis":null},
  "y":{"field":"head","type":"quantitative","scale":{"domain":[5,13],"range":[1225.7,1679.7],"nice":false,"zero":false},"axis":null}}}
]
}
